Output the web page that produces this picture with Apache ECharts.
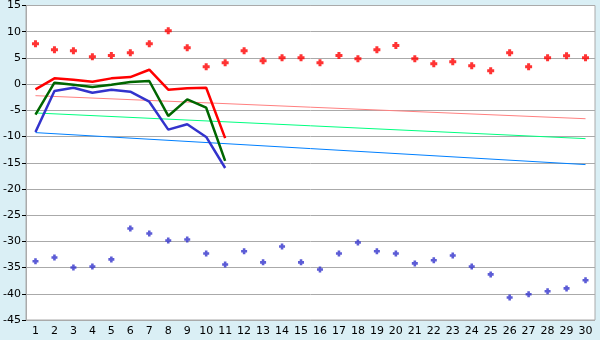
<!DOCTYPE html>
<html><head><meta charset="utf-8">
<script src="https://cdn.jsdelivr.net/npm/echarts@6/dist/echarts.min.js"></script>
<style>html,body{margin:0;padding:0;background:#daeff5;}#c{width:600px;height:340px;}</style>
</head><body><div id="c"></div>
<script>
var categories = ['1','2','3','4','5','6','7','8','9','10','11','12','13','14','15','16','17','18','19','20','21','22','23','24','25','26','27','28','29','30'];
var yTicks = [15,10,5,0,-5,-10,-15,-20,-25,-30,-35,-40,-45];
var redPoints = [7.7,6.55,6.36,5.22,5.48,5.98,7.7,10.17,6.93,3.31,4.08,6.36,4.46,5.03,5.03,4.08,5.48,4.84,6.55,7.38,4.84,3.89,4.27,3.5,2.55,5.98,3.31,5.03,5.41,5.03];
var bluePoints = [-33.8,-33.06,-34.97,-34.78,-33.44,-27.54,-28.49,-29.83,-29.64,-32.3,-34.4,-31.9,-34.0,-30.97,-34.0,-35.35,-32.3,-30.2,-31.9,-32.3,-34.2,-33.6,-32.7,-34.78,-36.3,-40.7,-40.1,-39.5,-38.97,-37.4];
var redLine = [-1.0,1.1,0.85,0.46,1.1,1.35,2.75,-1.06,-0.8,-0.7,-10.3];
var greenLine = [-5.8,0.27,-0.1,-0.55,-0.1,0.4,0.6,-6.07,-2.9,-4.5,-14.65];
var blueLine = [-9.13,-1.32,-0.68,-1.63,-1.06,-1.44,-3.35,-8.68,-7.67,-10.08,-16.0];
var trendRedEnds = [-2.2,-6.6];
var trendGreenEnds = [-5.5,-10.4];
var trendBlueEnds = [-9.25,-15.35];

function ends(e){var a=[];for(var i=0;i<categories.length;i++)a.push(null);a[0]=e[0];a[categories.length-1]=e[1];return a;}
var plus='path://M2,0H5V2H7V5H5V7H2V5H0V2H2Z';
var chart = echarts.init(document.getElementById('c'),null,{renderer:'canvas'});
var font='DejaVu Sans';
chart.setOption({
  animation:false,
  backgroundColor:'#daeff5',
  grid:{left:26,right:5,top:5,bottom:20,show:true,backgroundColor:'#ffffff',borderColor:'#aaaaaa',borderWidth:1},
  xAxis:{type:'category',data:categories,boundaryGap:true,
    axisLine:{lineStyle:{color:'#aaaaaa'}},
    axisTick:{alignWithLabel:true,length:5,lineStyle:{color:'#000000'}},
    axisLabel:{color:'#000',fontFamily:font,fontSize:11,margin:6,interval:0},
    splitLine:{show:false}},
  yAxis:{type:'value',min:-45,max:15,interval:5,
    axisLine:{show:true,lineStyle:{color:'#aaaaaa'}},
    axisTick:{show:true,length:4,lineStyle:{color:'#000000'}},
    axisLabel:{color:'#000',fontFamily:font,fontSize:11,margin:5},
    splitLine:{lineStyle:{color:'#aaaaaa',width:1}}},
  series:[
    {type:'line',data:ends(trendRedEnds),connectNulls:true,showSymbol:false,lineStyle:{color:'#ff8080',width:1},z:2},
    {type:'line',data:ends(trendGreenEnds),connectNulls:true,showSymbol:false,lineStyle:{color:'#00ff80',width:1},z:2},
    {type:'line',data:ends(trendBlueEnds),connectNulls:true,showSymbol:false,lineStyle:{color:'#0080ff',width:1},z:2},
    {type:'line',data:redLine,showSymbol:false,lineStyle:{color:'#ff0000',width:2.5},z:3},
    {type:'line',data:greenLine,showSymbol:false,lineStyle:{color:'#006600',width:2.5},z:3},
    {type:'line',data:blueLine,showSymbol:false,lineStyle:{color:'#3333cc',width:2.5},z:3},
    {type:'scatter',data:redPoints,symbol:plus,symbolSize:7,itemStyle:{color:'#ff0000'},z:4},
    {type:'scatter',data:bluePoints,symbol:plus,symbolSize:6,itemStyle:{color:'#3333cc'},z:4}
  ]
});
</script></body></html>
